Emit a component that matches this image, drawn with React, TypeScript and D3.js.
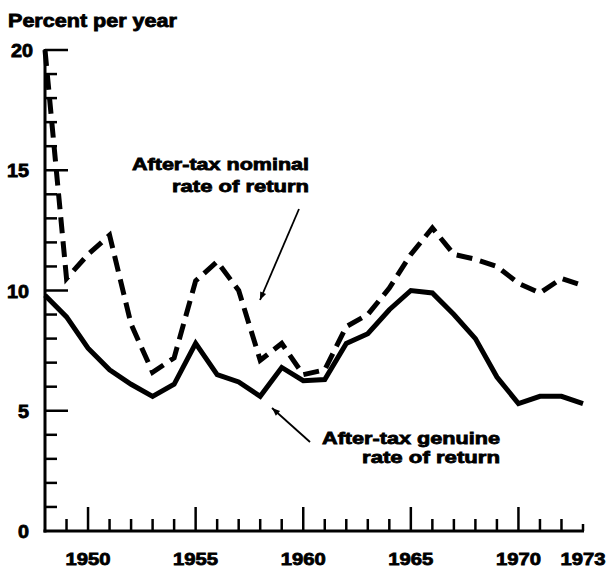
import React from "react";
import * as d3 from "d3";

const years = d3.range(1948, 1974);
const genuine = [9.8, 8.9, 7.6, 6.7, 6.1, 5.6, 6.1, 7.8, 6.5, 6.2, 5.6, 6.8, 6.25, 6.3, 7.8, 8.2, 9.2, 10.0, 9.9, 9.0, 8.0, 6.4, 5.3, 5.6, 5.6, 5.3];
const nominal = [20.0, 10.5, 11.5, 12.3, 8.6, 6.6, 7.2, 10.4, 11.2, 10.0, 7.1, 7.8, 6.5, 6.7, 8.5, 9.0, 10.1, 11.5, 12.6, 11.5, 11.3, 11.0, 10.3, 9.9, 10.5, 10.2];
const xTickLabels = [1950, 1955, 1960, 1965, 1970, 1973];
const yTickLabels = [0, 5, 10, 15, 20];

const FONT = "'Liberation Sans', Arial, sans-serif";
const heavy = { fontWeight: 700, stroke: "#000", strokeWidth: 0.8, fill: "#000" } as const;

export default function App() {
  const x = d3.scaleLinear().domain([1948, 1973]).range([45, 583]);
  const y = d3.scaleLinear().domain([0, 20]).range([531, 50]);
  const line = d3
    .line<number>()
    .x((_, i) => x(years[i]))
    .y((v) => y(v));

  const xMinor = d3.range(1949, 1974);
  const yMinor = d3.range(1, 20);

  return (
    <svg
      width={612}
      height={572}
      style={{ position: "absolute", left: 0, top: 0, background: "#fff" }}
      fontFamily={FONT}
    >
      <defs>
        <marker id="ah" viewBox="0 0 10 10" refX="10" refY="5" markerWidth="12" markerHeight="8" markerUnits="userSpaceOnUse" orient="auto">
          <path d="M0,1 L10,5 L0,9 Z" fill="#000" />
        </marker>
      </defs>
      <rect width={612} height={572} fill="#fff" />
      <text x={8} y={27} fontSize={18} textLength={169} lengthAdjust="spacingAndGlyphs" {...heavy}>
        Percent per year
      </text>

      {/* y axis */}
      <line x1={x(1948)} x2={x(1948)} y1={y(20) - 1} y2={y(0) + 1.5} stroke="#000" strokeWidth={3} />
      {yMinor.map((v) => {
        const major = v % 5 === 0;
        return (
          <line key={"yt" + v} x1={x(1948)} x2={x(1948) + (major ? 23 : 12)} y1={y(v)} y2={y(v)} stroke="#000" strokeWidth={2.5} />
        );
      })}
      <line x1={x(1948)} x2={x(1948) + 23} y1={y(20)} y2={y(20)} stroke="#000" strokeWidth={2.5} />
      {yTickLabels.map((v) => (
        <text
          key={"yl" + v}
          x={v === 20 ? 33 : 29}
          y={y(v) + 7}
          fontSize={18}
          textAnchor="end"
          textLength={v >= 10 ? 22 : 11}
          lengthAdjust="spacingAndGlyphs"
          {...heavy}
        >
          {v}
        </text>
      ))}

      {/* x axis */}
      <line x1={x(1948) - 1.5} x2={x(1973) + 1} y1={y(0)} y2={y(0)} stroke="#000" strokeWidth={3} />
      {xMinor.map((yr) => {
        const major = yr % 5 === 0;
        const len = yr === 1973 ? 7 : major ? 24 : 12;
        return <line key={"xt" + yr} x1={x(yr)} x2={x(yr)} y1={y(0)} y2={y(0) - len} stroke="#000" strokeWidth={2.5} />;
      })}
      {xTickLabels.map((yr) => (
        <text key={"xl" + yr} x={x(yr)} y={565} fontSize={17} textAnchor="middle" textLength={45} lengthAdjust="spacingAndGlyphs" {...heavy}>
          {yr}
        </text>
      ))}

      {/* series */}
      <path d={line(genuine) || ""} fill="none" stroke="#000" strokeWidth={5} strokeLinejoin="miter" />
      <path d={line(nominal) || ""} fill="none" stroke="#000" strokeWidth={5} strokeDasharray="16 8" strokeLinejoin="miter" />

      {/* annotations */}
      <text x={309} y={170} fontSize={17} textAnchor="end" textLength={177} lengthAdjust="spacingAndGlyphs" {...heavy}>
        After-tax nominal
      </text>
      <text x={309} y={192} fontSize={17} textAnchor="end" textLength={137} lengthAdjust="spacingAndGlyphs" {...heavy}>
        rate of return
      </text>
      <line x1={299} y1={209} x2={260} y2={300} stroke="#000" strokeWidth={1.8} markerEnd="url(#ah)" />

      <text x={500} y={444} fontSize={17} textAnchor="end" textLength={178} lengthAdjust="spacingAndGlyphs" {...heavy}>
        After-tax genuine
      </text>
      <text x={500} y={463} fontSize={17} textAnchor="end" textLength={138} lengthAdjust="spacingAndGlyphs" {...heavy}>
        rate of return
      </text>
      <line x1={310} y1={442} x2={272} y2={408} stroke="#000" strokeWidth={1.8} markerEnd="url(#ah)" />
    </svg>
  );
}
